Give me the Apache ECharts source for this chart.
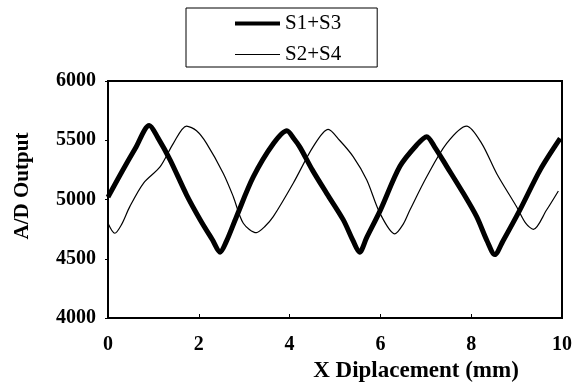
<!DOCTYPE html>
<html>
<head>
<meta charset="utf-8">
<script src="https://cdn.jsdelivr.net/npm/echarts@6/dist/echarts.min.js"></script>
<style>
  html, body { margin: 0; padding: 0; background: #fff; }
  #chart { width: 576px; height: 382px; }
</style>
</head>
<body>
<div id="chart"></div>
<script>
// values
const xTicks = [0, 2, 4, 6, 8, 10]
const yTicks = [4000, 4500, 5000, 5500, 6000]

const s13X = [0, 0.3, 0.6, 0.91, 1.1, 1.37, 1.73, 2.03, 2.3, 2.47, 2.6, 2.83, 3.2, 3.64, 3.94, 4.1, 4.23, 4.5, 4.82, 5.18, 5.4, 5.54, 5.7, 6.0, 6.43, 6.8, 7.02, 7.2, 7.46, 7.83, 8.12, 8.35, 8.52, 8.7, 9.07, 9.52, 9.96]
const s13Y = [5020, 5230, 5430, 5625, 5520, 5333, 5040, 4830, 4660, 4555, 4640, 4855, 5190, 5470, 5580, 5510, 5440, 5250, 5050, 4830, 4650, 4555, 4680, 4910, 5280, 5460, 5530, 5440, 5280, 5050, 4855, 4650, 4535, 4650, 4910, 5250, 5515]

const s24X = [0, 0.15, 0.3, 0.48, 0.78, 1.15, 1.44, 1.73, 1.95, 2.17, 2.54, 2.76, 2.98, 3.27, 3.45, 3.64, 4.08, 4.52, 4.85, 5.1, 5.4, 5.7, 5.99, 6.32, 6.5, 6.65, 7.02, 7.46, 7.9, 8.23, 8.56, 9.0, 9.2, 9.37, 9.66, 9.92]
const s24Y = [4800, 4715, 4790, 4940, 5137, 5277, 5474, 5620, 5580, 5474, 5220, 5024, 4800, 4720, 4770, 4855, 5137, 5446, 5592, 5500, 5362, 5165, 4884, 4710, 4790, 4911, 5192, 5474, 5620, 5474, 5220, 4939, 4800, 4748, 4911, 5072]

const font = 'Liberation Serif'
const zip = (xs, ys) => xs.map((x, i) => [x, ys[i]])

const myChart = echarts.init(document.getElementById('chart'))
const option = {
  animation: false,
  backgroundColor: '#fff',
  grid: {
    left: 108,
    right: 14,
    top: 81,
    bottom: 64,
    show: true,
    borderColor: '#000',
    borderWidth: 2,
    outerBoundsMode: 'none'
  },
  legend: {
    orient: 'vertical',
    left: 186,
    top: 8,
    padding: [5, 36, 2, 47],
    itemWidth: 45,
    itemHeight: 14,
    itemGap: 10,
    borderColor: '#000',
    borderWidth: 1,
    itemStyle: { opacity: 0 }, // 只保留图例中的线段
    textStyle: { fontFamily: font, fontSize: 21, color: '#000' },
    data: [
      { name: 'S1+S3', lineStyle: { color: '#000', width: 4 } },
      { name: 'S2+S4', lineStyle: { color: '#000', width: 1 } }
    ]
  },
  xAxis: {
    type: 'value',
    min: xTicks[0],
    max: xTicks[xTicks.length - 1],
    interval: 2,
    name: 'X Diplacement (mm)',
    nameLocation: 'middle',
    nameGap: 37,
    nameTextStyle: { fontFamily: font, fontSize: 23, fontWeight: 'bold', color: '#000', padding: [0, 0, 0, 162] },
    axisLine: { lineStyle: { color: '#000', width: 2 } },
    axisTick: { inside: true, length: 4, lineStyle: { color: '#000' } },
    axisLabel: { margin: 17, fontFamily: font, fontSize: 20, fontWeight: 'bold', color: '#000' },
    splitLine: { show: false }
  },
  yAxis: {
    type: 'value',
    min: yTicks[0],
    max: yTicks[yTicks.length - 1],
    interval: 500,
    name: 'A/D Output',
    nameLocation: 'middle',
    nameGap: 75,
    nameTextStyle: { fontFamily: font, fontSize: 21, fontWeight: 'bold', color: '#000', padding: [0, 0, 0, 27] },
    axisLine: { show: true, lineStyle: { color: '#000', width: 2 } },
    axisTick: { show: true, length: 3, lineStyle: { color: '#000' } },
    axisLabel: {
      margin: 12,
      fontFamily: font,
      fontSize: 20,
      fontWeight: 'bold',
      color: '#000',
      formatter: v => String(v)
    },
    splitLine: { show: false }
  },
  series: [
    {
      name: 'S1+S3',
      type: 'line',
      symbol: 'none',
      smooth: 0.3,
      lineStyle: { color: '#000', width: 5 },
      itemStyle: { color: '#000' },
      data: zip(s13X, s13Y)
    },
    {
      name: 'S2+S4',
      type: 'line',
      symbol: 'none',
      smooth: 0.3,
      lineStyle: { color: '#000', width: 1.2 },
      itemStyle: { color: '#000' },
      data: zip(s24X, s24Y)
    }
  ]
}
myChart.setOption(option)
</script>
</body>
</html>
